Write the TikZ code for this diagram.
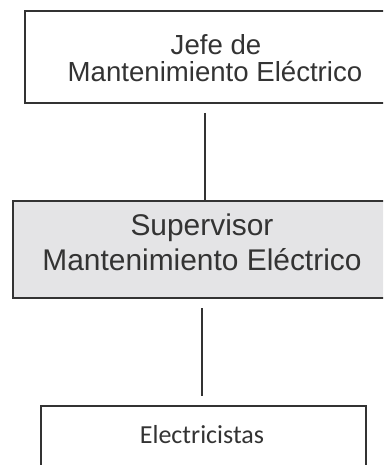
\documentclass[tikz,border=0pt]{standalone}
\usepackage{fontspec}
\setmainfont{Liberation Sans}
\newfontfamily\carlito{Carlito}
\definecolor{inkc}{HTML}{333333}
\definecolor{boxgray}{HTML}{E4E4E6}
\begin{document}
\begin{tikzpicture}[x=1pt,y=1pt,
  orgbox/.style={draw=inkc, line width=1.5pt, rectangle, inner sep=0pt},
  lbl/.style={text=inkc, anchor=base, inner sep=0pt},
  conn/.style={draw=inkc, line width=1.2pt}]
\useasboundingbox (0,0) rectangle (383,-465);
\clip (0,0) rectangle (383,-465);
% boxes
\node[orgbox, minimum width=380pt, minimum height=92pt] (b1) at (215,-57) {};
\node[orgbox, fill=boxgray, minimum width=378pt, minimum height=97pt] (b2) at (202,-249.5) {};
\node[orgbox, minimum width=325pt, minimum height=110pt] (b3) at (203.4,-461) {};
% texts
\node[lbl, font=\fontsize{27.6}{27}\selectfont] (t1a) at (216,-55) {Jefe de};
\node[lbl, font=\fontsize{27.6}{27}\selectfont] (t1b) at (215,-82) {Mantenimiento Eléctrico};
\node[lbl, font=\fontsize{29.9}{35}\selectfont] (t2a) at (202,-235) {Supervisor};
\node[lbl, font=\fontsize{29.9}{35}\selectfont] (t2b) at (202,-270) {Mantenimiento Eléctrico};
\node[lbl, font=\carlito\fontsize{26}{30}\selectfont] (t3) at (202,-443) {Electricistas};
% connectors
\coordinate (c1) at (205,-113);
\coordinate (c2) at (202,-308);
\draw[conn] (c1) -- (c1 |- b2.north);
\draw[conn, shorten >=9pt] (c2) -- (c2 |- b3.north);
\end{tikzpicture}
\end{document}
